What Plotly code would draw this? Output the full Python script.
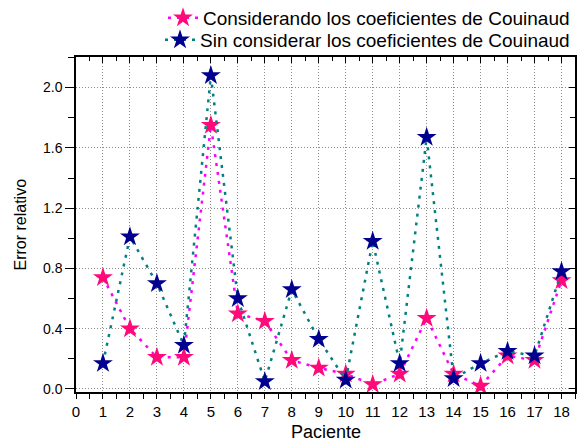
import plotly.graph_objects as go

pacientes = list(range(1, 19))
considerando = [0.74, 0.40, 0.21, 0.21, 1.75, 0.50, 0.45, 0.19, 0.14, 0.10,
                0.03, 0.10, 0.47, 0.10, 0.02, 0.22, 0.19, 0.72]
sin_considerar = [0.17, 1.01, 0.70, 0.29, 2.08, 0.60, 0.05, 0.66, 0.33, 0.06,
                  0.98, 0.17, 1.67, 0.07, 0.17, 0.25, 0.22, 0.78]
x_ticks = list(range(0, 19))
y_ticks = [0.0, 0.4, 0.8, 1.2, 1.6, 2.0]
y_tick_text = ["0.0", "0.4", "0.8", "1.2", "1.6", "2.0"]

FONT = "Liberation Sans, Arial, sans-serif"
W, H = 577, 442
ML, MR, MT, MB = 76, 2, 57, 50
PW, PH = W - ML - MR, H - MT - MB

fig = go.Figure()
fig.add_trace(go.Scatter(
    x=pacientes, y=considerando, mode="lines+markers",
    name="Considerando los coeficientes de Couinaud", legend="legend",
    line=dict(color="#ff00ff", dash="3px,6px", width=2.5),
    marker=dict(symbol="star", size=15, color="#ff0a78", line=dict(width=0)),
))
fig.add_trace(go.Scatter(
    x=pacientes, y=sin_considerar, mode="lines+markers",
    name="Sin considerar los coeficientes de Couinaud", legend="legend2",
    line=dict(color="#008080", dash="3px,6px", width=2.5),
    marker=dict(symbol="star", size=15, color="#000090", line=dict(width=0)),
))

# mirrored axes with inward ticks (top/right)
fig.add_trace(go.Scatter(x=[None], y=[None], xaxis="x2", yaxis="y2",
                         showlegend=False, hoverinfo="skip"))

legend_common = dict(
    x=1.0, xanchor="right", yanchor="middle",
    font=dict(size=19, family=FONT, color="black"),
    bgcolor="rgba(0,0,0,0)", itemwidth=30,
)
grid = dict(showgrid=True, gridcolor="#8c8c8c", griddash="1px,2px", gridwidth=1)

fig.update_layout(
    width=W, height=H,
    margin=dict(l=ML, r=MR, t=MT, b=MB, autoexpand=False),
    paper_bgcolor="white", plot_bgcolor="white",
    font=dict(family=FONT, color="black"),
    showlegend=True,
    legend=dict(y=1 + (MT - 18) / PH, **legend_common),
    legend2=dict(y=1 + (MT - 40) / PH, **legend_common),
    xaxis=dict(
        range=[0, 18.5], tickvals=x_ticks, ticktext=[str(v) for v in x_ticks],
        zeroline=False, showline=True, linecolor="black", linewidth=1.5,
        ticks="outside", ticklen=5, tickcolor="black", tickwidth=1.2,
        minor=dict(dtick=0.5, tick0=0, ticks="outside", ticklen=5,
                   tickcolor="black", showgrid=False),
        tickfont=dict(size=15, family=FONT), automargin=False, **grid,
    ),
    yaxis=dict(
        range=[-0.02, 2.203], tickvals=y_ticks, ticktext=y_tick_text,
        zeroline=False, showline=True, linecolor="black", linewidth=1.5,
        ticks="outside", ticklen=9, tickcolor="black", tickwidth=1.2,
        minor=dict(dtick=0.2, tick0=0, ticks="outside", ticklen=6,
                   tickcolor="black", showgrid=False),
        tickfont=dict(size=14, family=FONT), automargin=False, **grid,
    ),
    xaxis2=dict(
        overlaying="x", matches="x", side="top", showticklabels=False,
        tickvals=x_ticks, showgrid=False, zeroline=False,
        showline=True, linecolor="black", linewidth=1.5,
        ticks="inside", ticklen=6, tickcolor="black", tickwidth=1.2,
        minor=dict(dtick=0.5, tick0=0, ticks="inside", ticklen=4, tickcolor="black"),
        automargin=False,
    ),
    yaxis2=dict(
        overlaying="y", matches="y", side="right", showticklabels=False,
        tickvals=y_ticks, showgrid=False, zeroline=False,
        showline=True, linecolor="black", linewidth=1.5,
        ticks="inside", ticklen=6, tickcolor="black", tickwidth=1.2,
        minor=dict(dtick=0.2, tick0=0, ticks="inside", ticklen=5, tickcolor="black"),
        automargin=False,
    ),
    annotations=[
        dict(text="Paciente", xref="paper", yref="paper", x=0.5,
             y=-(MB - 10) / PH, xanchor="center", yanchor="middle",
             showarrow=False, font=dict(size=18, family=FONT, color="black")),
        dict(text="Error relativo", xref="paper", yref="paper",
             x=(20 - ML) / PW, y=0.5, xanchor="center", yanchor="middle",
             textangle=-90, showarrow=False,
             font=dict(size=16, family=FONT, color="black")),
    ],
)

fig.write_html("out.html", config={"displayModeBar": False},
               post_script="document.body.style.margin='0';document.body.style.overflow='hidden';")
